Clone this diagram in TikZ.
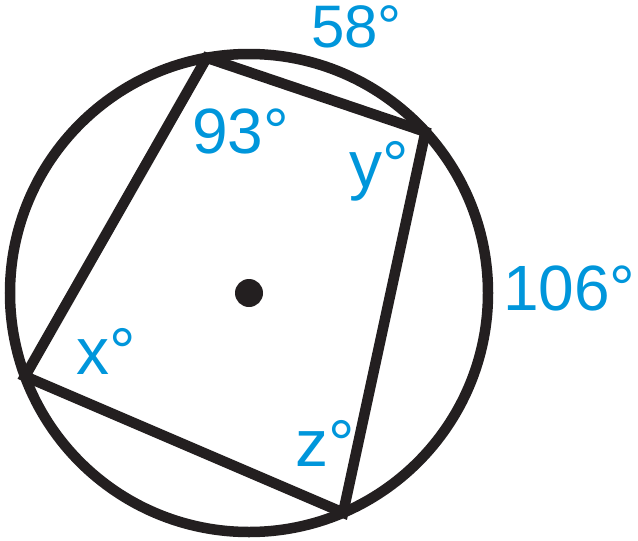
\documentclass[tikz,border=0pt]{standalone}
\usepackage{fontspec}
\setmainfont{Liberation Sans}
\definecolor{lblue}{RGB}{0,150,219}
\definecolor{ink}{RGB}{35,31,32}
\begin{document}
\begin{tikzpicture}[x=1pt,y=-1pt,
  edge/.style={draw=ink,line width=10.5pt,line join=miter},
  lbl/.style={text=lblue,anchor=base west,inner sep=0pt}]
\useasboundingbox (0,0) rectangle (638,541);
\coordinate (O) at (249,293);
\draw[edge] (O) circle[radius=239];
\fill[ink] (O) circle[radius=14];
\path (O) ++(-100.2:239) coordinate (A);
\path (O) ++(-42.4:239) coordinate (B);
\path (O) ++(66.8:239) coordinate (C);
\path (O) ++(159.6:239) coordinate (D);
\draw[edge] (A) -- (B) -- (C) -- (D) -- cycle;
\node[lbl,font=\fontsize{60}{60}\selectfont] (l58) at (311,47) {58°};
\node[lbl,font=\fontsize{64}{64}\selectfont] (l93) at (192,153) {93°};
\node[lbl,font=\fontsize{66}{66}\selectfont] (ly) at (349,187) {y°};
\node[lbl,font=\fontsize{64}{64}\selectfont] (l106) at (503,310) {106°};
\node[lbl,font=\fontsize{66}{66}\selectfont] (lx) at (76,374) {x°};
\node[lbl,font=\fontsize{66}{66}\selectfont] (lz) at (295,466) {z°};
\end{tikzpicture}
\end{document}
